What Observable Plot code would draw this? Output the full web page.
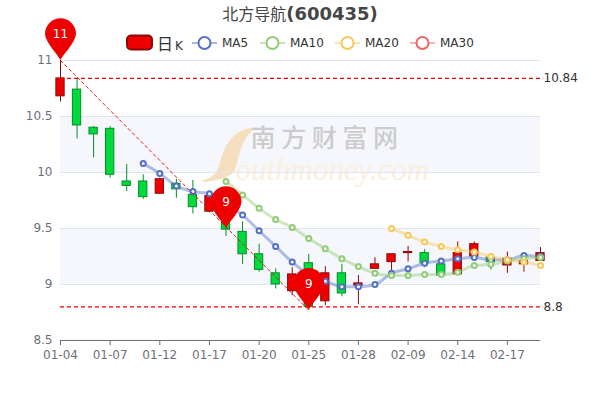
<!DOCTYPE html>
<html><head><meta charset="utf-8">
<script src="https://cdn.jsdelivr.net/npm/d3@7"></script>
<script src="https://cdn.jsdelivr.net/npm/@observablehq/plot@0.6"></script>
<style>
html,body{margin:0;padding:0;background:#fff}
#wrap{position:relative;width:600px;height:400px;overflow:hidden;font-family:"DejaVu Sans","Noto Sans CJK SC",sans-serif}
#wrap svg.plot{display:block;position:absolute;left:0;top:0}
.title{position:absolute;left:0;top:0;width:600px;text-align:center;color:#464646;line-height:26px;white-space:nowrap}
.title .c{font-size:16px;font-family:"Noto Sans CJK SC",sans-serif;font-weight:400}
.title .n{font-size:18px;font-weight:700}
.lg{position:absolute;top:33px;height:20px;line-height:20px;font-size:12px;color:#333;white-space:nowrap}
.lg .c{font-size:16px;font-family:"Noto Sans CJK SC",sans-serif;margin-right:2px}
.ic{position:absolute;top:33px}
</style></head><body><div id="wrap"></div>
<script>
const dates=["01-04","01-05","01-06","01-07","01-10","01-11","01-12","01-13","01-14","01-17","01-18","01-19","01-20","01-21","01-24","01-25","01-26","01-27","01-28","02-07","02-08","02-09","02-10","02-11","02-14","02-15","02-16","02-17","02-18","02-21"];
const tickLabels=["01-04","01-07","01-12","01-17","01-20","01-25","01-28","02-09","02-14","02-17"];
const opens =[10.68,10.74,10.40,10.39,9.92,9.92,9.81,9.90,9.80,9.65,9.66,9.47,9.27,9.10,8.94,9.19,8.85,9.10,8.99,9.14,9.20,9.28,9.28,9.18,9.09,9.25,9.24,9.17,9.18,9.21];
const closes=[10.84,10.42,10.34,9.98,9.88,9.78,9.94,9.85,9.69,9.79,9.49,9.27,9.13,9.00,9.09,8.80,9.10,8.92,9.01,9.18,9.27,9.29,9.19,9.08,9.28,9.36,9.20,9.23,9.21,9.28];
const highs =[11.0,10.84,10.41,10.41,10.07,9.98,9.95,9.94,9.93,9.80,9.68,9.56,9.36,9.14,9.15,9.27,9.16,9.18,9.08,9.24,9.27,9.34,9.31,9.18,9.38,9.38,9.24,9.29,9.21,9.33];
const lows  =[10.63,10.30,10.13,9.95,9.83,9.76,9.81,9.77,9.63,9.64,9.43,9.18,9.11,8.96,8.90,8.77,8.81,8.89,8.82,9.14,9.11,9.20,9.15,9.08,9.09,9.25,9.13,9.10,9.11,9.21];
const ma5 =[null,null,null,null,null,10.08,9.99,9.88,9.83,9.81,9.72,9.62,9.48,9.34,9.20,9.09,9.03,8.98,8.98,9.00,9.10,9.14,9.19,9.21,9.23,9.24,9.22,9.22,9.26,9.25];
const ma10=[null,null,null,null,null,null,null,null,null,null,9.92,9.80,9.68,9.58,9.51,9.41,9.32,9.23,9.16,9.10,9.08,9.08,9.09,9.09,9.11,9.17,9.18,9.21,9.23,9.24];
const ma20=[null,null,null,null,null,null,null,null,null,null,null,null,null,null,null,null,null,null,null,null,9.50,9.44,9.38,9.34,9.31,9.29,9.25,9.22,9.20,9.17];
const yTicks=[8.5,9,9.5,10,10.5,11];
const bandsLo=[9,10], bandsHi=[9.5,10.5];
const refValues=[10.84,8.8], refLabels=["10.84","8.8"];
const pinDates=["01-04","01-18","01-25"], pinValues=[11,9.5,8.77], pinLabels=["11","9","9"];
const slopeDates=["01-04","01-25"], slopeValues=[11,8.77];
const UP="#ee0000",UPB="#8a0a0a",DN="#00da3c",DNB="#008f28",AX="#6e7079";
const series=[["MA5","#5470c6",ma5],["MA10","#91cc75",ma10],["MA20","#fac858",ma20]];
const legendColors={MA5:"#5470c6",MA10:"#91cc75",MA20:"#fac858",MA30:"#ee6666"};

const idx=d=>dates.indexOf(d);
const halfBody=0.25;
const rows=dates.map((d,i)=>({i,x1:i-halfBody,x2:i+halfBody,o:opens[i],c:closes[i],h:highs[i],l:lows[i],up:closes[i]>=opens[i]}));
const pins=pinDates.map((d,i)=>({i:idx(d),v:pinValues[i],t:pinLabels[i]}));
const refs=refValues.map((v,i)=>({v,t:refLabels[i]}));
const bands=bandsLo.map((lo,i)=>({lo,hi:bandsHi[i]}));
const slope=slopeDates.map((d,i)=>({i:idx(d),v:slopeValues[i]}));

const pin={draw(ctx,size){const r=Math.sqrt(size/Math.PI),cy=-r*1.72;
  ctx.moveTo(0,0);
  ctx.bezierCurveTo(-r*.12,-r*.35,-r*.95,cy+r*.62,-r,cy);
  ctx.arc(0,cy,r,Math.PI,0,false);
  ctx.bezierCurveTo(r*.95,cy+r*.62,r*.12,-r*.35,0,0);
  ctx.closePath();}};
const swoosh={draw(ctx){
  ctx.moveTo(0,0);
  ctx.bezierCurveTo(-18,1,-28,12,-33,27);
  ctx.bezierCurveTo(-37,38,-36,48,-53,53);
  ctx.lineTo(-51,55);
  ctx.bezierCurveTo(-40,52,-26,52,-21,43);
  ctx.bezierCurveTo(-16,32,-17,14,0,0);
  ctx.closePath();}};

const chart=Plot.plot({
  width:600,height:400,marginLeft:60,marginRight:60,marginTop:60,marginBottom:60,
  style:{fontFamily:'"DejaVu Sans","Noto Sans CJK SC",sans-serif',fontSize:"12px",background:"transparent",overflow:"visible"},
  x:{type:"linear",domain:[0,dates.length-1],label:null},
  y:{domain:[8.5,11],label:null},
  marks:[
    Plot.rectY(bands,{y1:"lo",y2:"hi",fill:"#f5f7fc"}),
    Plot.dot([0],{frameAnchor:"top-left",symbol:swoosh,r:5,fill:"#f6dfbf",stroke:"none",dx:195,dy:67}),
    Plot.text(["南 方 财 富 网"],{frameAnchor:"top-left",dx:190,dy:69,fontSize:25,fill:"#cccccc",textAnchor:"start",fontFamily:'"Noto Sans CJK SC",sans-serif',fontWeight:500}),
    Plot.text(["outhmoney.com"],{frameAnchor:"top-left",dx:175,dy:97,fontSize:31,fill:"#fbeedd",textAnchor:"start",fontFamily:'"Liberation Serif",serif',fontStyle:"italic"}),
    Plot.gridY(yTicks,{stroke:"#e0e6f1",strokeOpacity:1}),
    Plot.axisY({ticks:yTicks,tickSize:0,tickPadding:8,fill:AX,fontSize:12,label:null,tickFormat:d=>String(d)}),
    Plot.axisX({ticks:tickLabels.map(idx),tickFormat:i=>dates[i],tickSize:5,tickPadding:5,stroke:AX,fill:AX,fontSize:12,label:null}),
    Plot.ruleY([8.5],{stroke:AX}),
    Plot.ruleX(rows,{x:"i",y1:"l",y2:"h",stroke:d=>d.up?UPB:DNB,strokeWidth:1}),
    Plot.rect(rows,{x1:"x1",x2:"x2",y1:"o",y2:"c",fill:d=>d.up?UP:DN,stroke:d=>d.up?UPB:DNB,strokeWidth:1}),
    ...series.flatMap(([name,col,arr])=>{
      const t=dates.map((d,i)=>({i,v:arr[i]})).filter(p=>p.v!=null);
      return [
        Plot.line(t,{x:"i",y:"v",stroke:col,strokeWidth:3,strokeOpacity:.45,curve:"monotone-x"}),
        Plot.dot(t,{x:"i",y:"v",r:2.5,fill:"#fff",stroke:col,strokeWidth:2})
      ];}),
    Plot.line(slope,{x:"i",y:"v",stroke:"#ee0000",strokeWidth:1,strokeDasharray:"3 3",strokeOpacity:.9}),
    Plot.ruleY(refs,{y:"v",stroke:"#ee0000",strokeWidth:1.4,strokeDasharray:"4 3"}),
    Plot.text(refs,{y:"v",frameAnchor:"right",dx:3,text:"t",textAnchor:"start",fill:"#333",fontSize:12}),
    Plot.dot(pins,{x:"i",y:"v",r:15.5,symbol:pin,fill:"#ee0000",stroke:"none"}),
    Plot.text(pins,{x:"i",y:"v",text:"t",dy:-26,fill:"#fff",fontSize:12})
  ]
});
const wrap=document.getElementById("wrap");
wrap.appendChild(chart);
const add=(cls,html,left)=>{const e=document.createElement("div");e.className=cls;e.innerHTML=html;if(left!=null)e.style.left=left+"px";wrap.appendChild(e);};
add("title",'<span class="c">北方导航</span><span class="n">(600435)</span>');
add("ic",`<svg width="28" height="20" style="display:block"><rect x="1" y="2.5" width="25" height="14" rx="4" fill="${UP}" stroke="${UPB}" stroke-width="2"/></svg>`,126);
add("lg",'<span class="c">日</span>K',157);
const legendX={MA5:192,MA10:260,MA20:335,MA30:410};
for(const k of Object.keys(legendColors)){const c=legendColors[k],x=legendX[k];
  add("ic",`<svg width="26" height="20" style="display:block"><line x1="0" x2="25" y1="10" y2="10" stroke="${c}" stroke-width="2" stroke-opacity=".5"/><circle cx="12.5" cy="10" r="6" fill="#fff" stroke="${c}" stroke-width="2"/></svg>`,x);
  add("lg",k,x+30);
}
</script></body></html>
